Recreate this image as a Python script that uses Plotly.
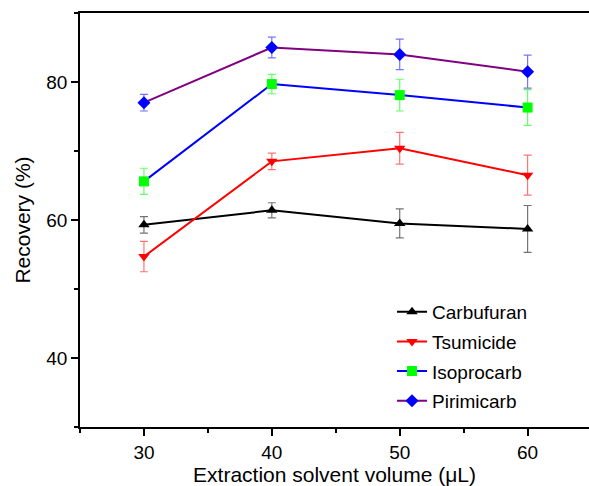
import plotly.graph_objects as go

volume = [30, 40, 50, 60]
names = ["Carbufuran", "Tsumicide", "Isoprocarb", "Pirimicarb"]
carbufuran = [59.3, 61.4, 59.5, 58.7]
carbufuran_err = [1.2, 1.1, 2.1, 3.4]
tsumicide = [54.7, 68.5, 70.4, 66.5]
tsumicide_err = [2.2, 1.2, 2.3, 2.9]
isoprocarb = [65.6, 79.7, 78.1, 76.3]
isoprocarb_err = [1.9, 1.4, 2.3, 2.6]
pirimicarb = [77.0, 85.0, 84.0, 81.5]
pirimicarb_err = [1.2, 1.5, 2.2, 2.4]

series = [
    (names[0], carbufuran, carbufuran_err, "black", "black", "triangle-up", "rgba(0,0,0,0.55)"),
    (names[1], tsumicide, tsumicide_err, "red", "red", "triangle-down", "rgba(255,0,0,0.55)"),
    (names[2], isoprocarb, isoprocarb_err, "blue", "#00ff00", "square", "rgba(0,255,0,0.6)"),
    (names[3], pirimicarb, pirimicarb_err, "purple", "blue", "diamond", "rgba(0,0,255,0.55)"),
]

fig = go.Figure()
for name, y, err, lc, mc, sym, ec in series:
    fig.add_trace(go.Scatter(
        x=volume, y=y, name=name, mode="lines+markers", legendgroup=name,
        line=dict(color=lc, width=2),
        marker=dict(color=mc, symbol=sym, size=10, line=dict(width=0)),
        error_y=dict(type="data", array=err, visible=True, color=ec, thickness=1.2, width=4),
    ))

font = "Liberation Sans, Arial, sans-serif"
fig.update_layout(
    width=589, height=486,
    margin=dict(l=80, r=0, t=13, b=59),
    paper_bgcolor="white", plot_bgcolor="white",
    font=dict(family=font, color="black", size=19),
    showlegend=True,
    legend=dict(
        x=0.613, y=0.324, xanchor="left", yanchor="top",
        bgcolor="rgba(0,0,0,0)", font=dict(size=19, family=font),
        traceorder="grouped", tracegroupgap=2, itemsizing="trace",
    ),
    xaxis=dict(
        range=[25, 64.8], tickmode="linear", tick0=30, dtick=10,
        showgrid=False, zeroline=False, automargin=False,
        showline=True, linecolor="black", linewidth=1.5, mirror=True,
        ticks="outside", ticklen=7, tickwidth=1.5, tickcolor="black",
        minor=dict(ticks="outside", ticklen=4, tickwidth=1.5, tickcolor="black", dtick=5, tick0=25, showgrid=False),
        title=dict(text="Extraction solvent volume (μL)", font=dict(size=21), standoff=6),
        tickfont=dict(size=19),
    ),
    yaxis=dict(
        range=[30, 90], tickmode="linear", tick0=40, dtick=20,
        showgrid=False, zeroline=False, automargin=False,
        showline=True, linecolor="black", linewidth=1.5, mirror=False,
        ticks="outside", ticklen=7, tickwidth=1.5, tickcolor="black",
        minor=dict(ticks="outside", ticklen=4, tickwidth=1.5, tickcolor="black", dtick=10, tick0=30, showgrid=False),
        title=dict(text="Recovery (%)", font=dict(size=21), standoff=10),
        tickfont=dict(size=19),
    ),
)

fig.write_html(
    "out.html",
    config={"displayModeBar": False},
    post_script="document.body.style.margin='0';document.body.style.overflow='hidden';",
)
